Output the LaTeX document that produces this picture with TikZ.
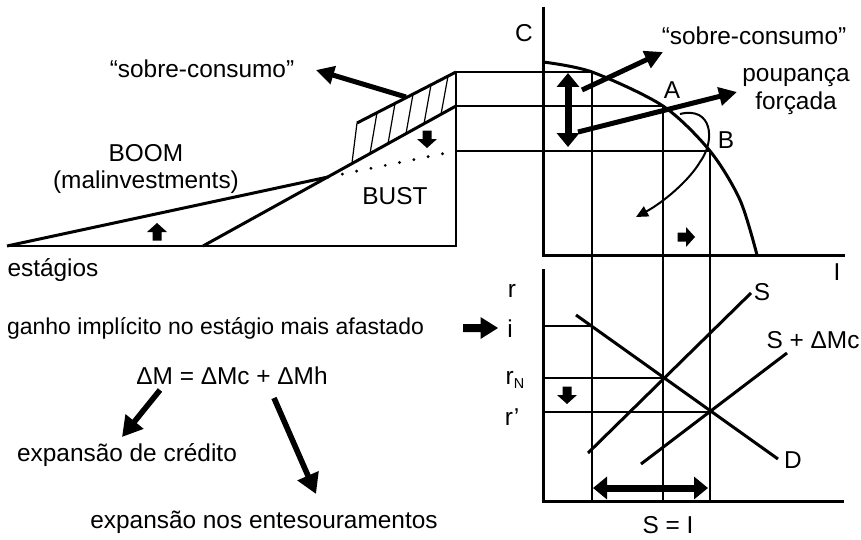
\documentclass[tikz,border=0pt]{standalone}
\usepackage{fontspec}
\setmainfont{Liberation Sans}
\usetikzlibrary{arrows.meta}
\tikzset{
  blk/.pic={\fill (-8.5,-4.5) -- (0,-4.5) -- (0,-10) -- (9,0) -- (0,10) -- (0,4.5) -- (-8.5,4.5) -- cycle;},
  blklong/.pic={\fill (-17.5,-4) -- (0,-4) -- (0,-11) -- (17.5,0) -- (0,11) -- (0,4) -- (-17.5,4) -- cycle;}
}
\begin{document}
\begin{tikzpicture}[x=0.5pt,y=-0.5pt,
  lbl/.style={inner sep=0pt, font=\fontsize{12.2}{14}\selectfont},
  guide/.style={line width=0.6pt},
  thickline/.style={line width=1.5pt},
  axisline/.style={line width=1.5pt},
  dotline/.style={line width=1.6pt, line cap=round, dash pattern=on 0pt off 7.3pt},
  bigarrow/.style={line width=2.5pt, -{Triangle[length=9pt,width=9pt]}},
  bigarrowb/.style={line width=2.8pt, -{Triangle[length=10pt,width=11pt]}},
  dblarrow/.style={line width=3.5pt, {Triangle[length=7pt,width=11pt]}-{Triangle[length=7pt,width=11pt]}},
  curvearrow/.style={line width=1pt, -{Triangle[length=6pt,width=5.5pt]}}
]
\useasboundingbox (0,0) rectangle (861,540);

% ---------- left diagram ----------
\coordinate (O1) at (7,246);
\coordinate (R1) at (456,246);
\coordinate (K) at (328,177);
\coordinate (S0) at (203,246);
\coordinate (S1) at (456,106);
\coordinate (H0) at (357,123);
\coordinate (H1) at (456,72);
\coordinate (H2) at (352,163);
\coordinate (D1) at (456,151);

\draw[guide] (O1) -- (R1) -- (H1);
\draw[thickline] (O1) -- (K);
\draw[thickline] (S0) -- (S1);
\draw[thickline] (H0) -- (H1);
\draw[guide] (H0) -- (H2);
\foreach \xt/\yt/\xb/\yb in {377/112.7/370/153.6, 395/103.4/388/143.7, 413/94.2/406/133.7, 431/84.9/424/123.8, 448/76.1/441/114.4}
  \draw[guide] (\xt,\yt) -- (\xb,\yb);
\draw[dotline] (K) -- (D1);

\pic[rotate=90] at (157,232) {blk};
\pic[rotate=-90] at (427,139) {blk};

\node[lbl] (sc1) at (202,69) {“sobre-consumo”};
\coordinate (sc1t) at (406,97);
\draw[bigarrow] (sc1t) -- (316,70);
\node[lbl] (boom) at (146,153) {BOOM};
\node[lbl] (malinv) at (146,182) {(malinvestments)};
\node[lbl] (bust) at (395,196) {BUST};
\node[lbl] (est) at (53,270) {estágios};

% ---------- top right panel ----------
\coordinate (C0) at (543,255);
\coordinate (Ctop) at (543,7);
\coordinate (Iend) at (845,255);
\coordinate (P1) at (592,72);
\coordinate (A) at (663,106);
\coordinate (B) at (710,151);
\draw[axisline] (Ctop) -- (C0) -- (Iend);
\draw[thickline] plot[smooth] coordinates {(543,62) (592,72) (663,106) (710,151) (740,200) (757,255)};

\coordinate (P1b) at (592,501);
\coordinate (Ab) at (663,501);
\coordinate (Bb) at (710,501);
\draw[guide] (H1) -- (P1) -- (P1b);
\draw[guide] (S1) -- (A) -- (Ab);
\draw[guide] (D1) -- (B) -- (Bb);

\node[lbl] (Clab) at (524,33) {C};
\node[lbl] (Ilab) at (837,272) {I};
\node[lbl] (Alab) at (672,90) {A};
\node[lbl] (Blab) at (726,140) {B};
\node[lbl] (sc2) at (754,36) {“sobre-consumo”};
\node[lbl] (poup) at (796,78) {poupança};
\node[lbl] (forc) at (796,103) {forçada};

\draw[dblarrow] (568,73) -- (568,147);
\draw[bigarrow] (582,90) -- (663,52);
\draw[bigarrow] (578,132) -- (737,92);
\draw[curvearrow] (680,114) .. controls (712,106) and (716,140) .. (700,162) .. controls (688,182) and (662,203) .. (636,217);
\pic at (686,237) {blk};

% ---------- bottom right panel ----------
\coordinate (r0) at (543,501);
\coordinate (rtop) at (543,269);
\coordinate (rend) at (844,501);
\draw[axisline] (rtop) -- (r0) -- (rend);
\draw[guide] (543,326) -- (592,326);
\draw[guide] (543,378) -- (663,378);
\draw[guide] (543,412) -- (710,412);
\draw[thickline] (576,315) -- (778,459);
\draw[thickline] (588,453) -- (751,293);
\draw[thickline] (641,464) -- (787,353);
\draw[dblarrow] (593,488) -- (708,488);
\pic[rotate=-90] at (567,395) {blk};

\node[lbl] (rlab) at (512,291) {r};
\node[lbl] (ilab) at (510,329) {i};
\node[lbl] (rN) at (515,380) {r\raisebox{-0.3ex}{\fontsize{7.2}{8}\selectfont N}};
\node[lbl] (rp) at (512,417) {r’};
\node[lbl] (Slab) at (762,292) {S};
\node[lbl] (SMc) at (813,340) {S + ΔMc};
\node[lbl] (Dlab) at (793,460) {D};
\node[lbl] (SI) at (668,525) {S = I};

% ---------- bottom left text ----------
\node[lbl, font=\fontsize{11.5}{14}\selectfont] (ganho) at (215.5,328) {ganho implícito no estágio mais afastado};
\pic at (480.5,328) {blklong};
\node[lbl] (dM) at (232,376) {ΔM = ΔMc + ΔMh};
\node[lbl] (credito) at (127,455) {expansão de crédito};
\node[lbl] (entes) at (264,522) {expansão nos entesouramentos};
\draw[bigarrowb] (160,390) -- (122,437);
\draw[bigarrowb] (274,398) -- (316,494);
\end{tikzpicture}
\end{document}
